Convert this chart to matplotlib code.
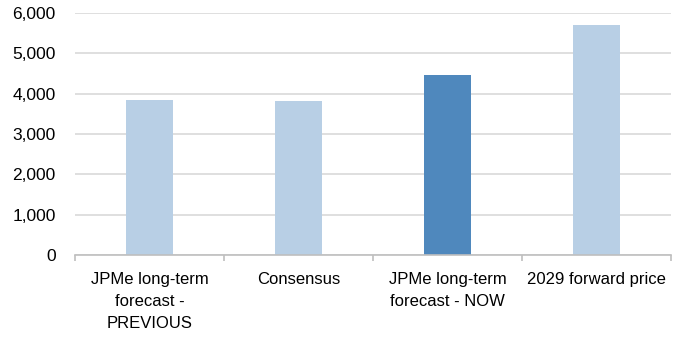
import numpy as np
import matplotlib.pyplot as plt
from matplotlib.ticker import FuncFormatter, FixedLocator

plt.rcParams["font.family"] = ["Liberation Sans", "DejaVu Sans"]

categories = [
    "JPMe long-term\nforecast -\nPREVIOUS",
    "Consensus",
    "JPMe long-term\nforecast - NOW",
    "2029 forward price",
]
values = [3850, 3820, 4460, 5710]
highlight = [False, False, True, False]

LIGHT = "#b8cfe5"
DARK = "#4f88bd"
GRID = "#d9d9d9"

fig = plt.figure(figsize=(6.78, 3.39), dpi=100)
ax = fig.add_axes([0.1106, 0.2478, 0.879, 0.7139])

x = np.arange(len(categories))
colours = [DARK if h else LIGHT for h in highlight]
ax.bar(x, values, width=0.31, color=colours, zorder=2)

ax.set_xlim(-0.5, len(categories) - 0.5)
ax.set_ylim(0, 6000)
ax.set_yticks(range(0, 6001, 1000))
ax.yaxis.set_major_formatter(FuncFormatter(lambda v, _: f"{v:,.0f}"))
ax.grid(axis="y", color=GRID, linewidth=1.2, zorder=0)
ax.set_axisbelow(True)

for side in ("left", "right", "top"):
    ax.spines[side].set_visible(False)
ax.spines["bottom"].set_color("#bfbfbf")
ax.spines["bottom"].set_linewidth(1.2)

ax.set_xticks(x)
ax.set_xticklabels(categories, linespacing=1.6)
ax.xaxis.set_minor_locator(FixedLocator(np.arange(-0.5, len(categories), 1.0)))
ax.tick_params(axis="x", which="major", length=0, pad=12, labelsize=12, labelcolor="#000000")
ax.tick_params(axis="x", which="minor", length=4, width=1.2, color="#bfbfbf", direction="out")
ax.tick_params(axis="y", length=0, pad=14, labelsize=12.5, labelcolor="#000000")

fig.savefig("out.png", dpi=100)
